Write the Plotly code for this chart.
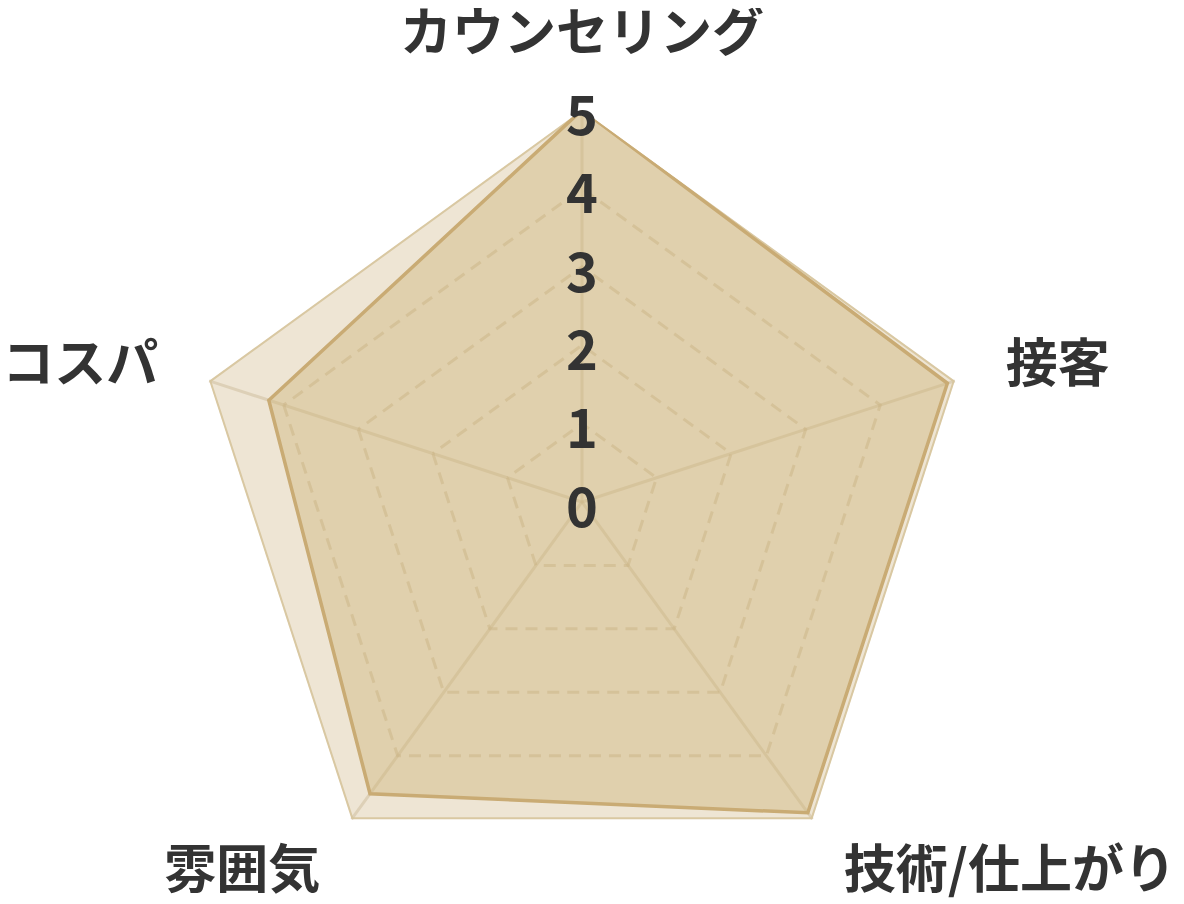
import plotly.graph_objects as go

categories = ["カウンセリング", "接客", "技術/仕上がり", "雰囲気", "コスパ"]
full_scores = [5, 5, 5, 5, 5]
scores = [5, 4.9, 4.9, 4.6, 4.2]
scale_values = [0, 1, 2, 3, 4, 5]
scale_labels = ["0", "1", "2", "3", "4", "5"]

font_name = "Noto Sans CJK JP"

# category names shown at a larger size than the tickfont used for placement;
# the side labels get an empty first line so they sit a bit lower
cat_text = []
for c in categories:
    lead = "<br>" if c in ("接客", "コスパ") else ""
    cat_text.append("%s<span style='font-size:52px'>%s</span>" % (lead, c))

# same trick for the scale numbers: small font for the offset, big glyphs shown
num_text = ["<span style='font-size:54px'>%s</span>" % s for s in scale_labels]

# plotly hides a polar point sitting exactly on r=0, so nudge the centre label
scale_r = [v if v > 0 else 1e-3 for v in scale_values]

fig = go.Figure()

# full-mark polygon behind
fig.add_trace(go.Scatterpolar(r=full_scores + full_scores[:1],
                              theta=categories + categories[:1],
                              fill="toself",
                              fillcolor="rgba(214,194,152,0.42)",
                              line=dict(color="rgba(214,196,156,0.9)", width=4),
                              mode="lines",
                              hoverinfo="skip"))

# actual score polygon
fig.add_trace(go.Scatterpolar(r=scores + scores[:1],
                              theta=categories + categories[:1],
                              fill="toself",
                              fillcolor="rgba(205,178,120,0.42)",
                              line=dict(color="#c9ab74", width=3.5),
                              mode="lines",
                              hoverinfo="skip"))

# scale numbers along the top spoke
fig.add_trace(go.Scatterpolar(r=scale_r,
                              theta=[categories[0]] * len(scale_values),
                              mode="text",
                              text=num_text,
                              textposition="bottom center",
                              cliponaxis=False,
                              textfont=dict(family=font_name, size=33, color="#333333", weight="bold"),
                              hoverinfo="skip"))

fig.update_layout(
    width=1184, height=904,
    margin=dict(l=0, r=0, t=0, b=0),
    paper_bgcolor="white",
    showlegend=False,
    font=dict(family=font_name),
    polar=dict(
        domain=dict(x=[0.1537, 0.8159], y=[0.0199, 0.8872]),
        bgcolor="rgba(0,0,0,0)",
        gridshape="linear",
        radialaxis=dict(range=[0, 5], tickvals=[1, 2, 3, 4, 5], showticklabels=False,
                        ticks="", showline=False,
                        gridcolor="rgba(185,165,125,0.45)", griddash="12px,8px", gridwidth=3),
        angularaxis=dict(direction="clockwise", rotation=90, showline=False,
                         tickvals=categories, ticktext=cat_text,
                         ticks="outside", ticklen=48, tickcolor="rgba(0,0,0,0)",
                         gridcolor="rgba(190,175,145,0.45)", gridwidth=3,
                         tickfont=dict(family=font_name, size=25, color="#333333", weight="bold")),
    ),
)

fig.write_html("out.html")
